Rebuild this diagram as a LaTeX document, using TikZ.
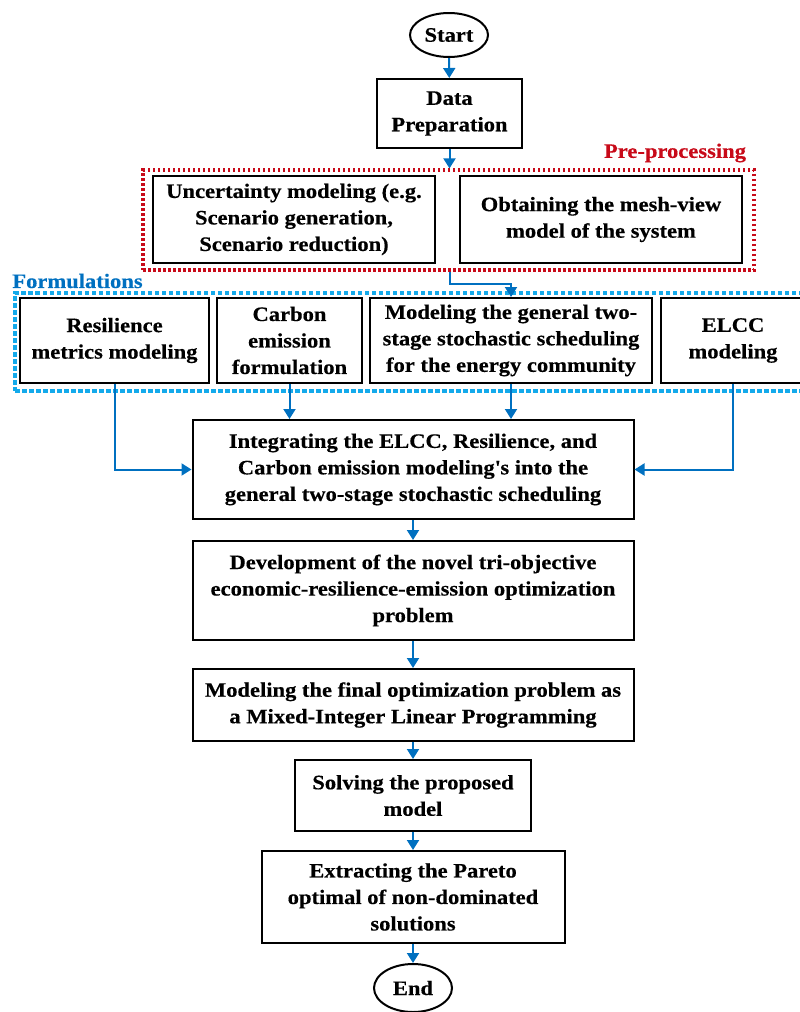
\documentclass[tikz,border=0pt]{standalone}
\usepackage{fontspec}
\setmainfont{Liberation Serif}[FakeStretch=1.1,BoldFeatures={FakeBold=0.4}]
\usetikzlibrary{arrows.meta,shapes.geometric}
\definecolor{arrblue}{RGB}{0,112,192}
\definecolor{dashred}{RGB}{200,10,25}
\definecolor{dashblue}{RGB}{20,170,235}
\tikzset{
  box/.style={draw=black,line width=2pt,rectangle,align=center,inner sep=0pt,
    font=\bfseries\fontsize{20.5}{26.5}\selectfont},
  term/.style={draw=black,line width=2pt,ellipse,inner sep=0pt,
    font=\bfseries\fontsize{20.5}{26.5}\selectfont},
  arr/.style={draw=arrblue,line width=2pt,-{Triangle[length=10pt,width=12pt]}},
  redframe/.style={draw=dashred,line width=3.2pt,dash pattern=on 2.5pt off 2.5pt,inner sep=0pt},
  blueframe/.style={draw=dashblue,line width=3.2pt,dash pattern=on 4.5pt off 2.5pt,inner sep=0pt},
  grouplabel/.style={font=\bfseries\fontsize{20.5}{26.5}\selectfont,inner sep=0pt}
}
\begin{document}
\begin{tikzpicture}[x=1pt,y=-1pt]
\useasboundingbox (0,0) rectangle (800,1012);
% group frames
\node[redframe,minimum width=611pt,minimum height=100pt] (pre) at (448.5,220) {};
\node[blueframe,minimum width=793pt,minimum height=98pt] (form) at (411.5,342) {};
\node[grouplabel,text=dashred] (prelbl) at (675,153) {Pre-processing};
\node[grouplabel,text=arrblue] (formlbl) at (77.5,281) {Formulations};
% nodes
\node[term,minimum width=78pt,minimum height=44pt] (start) at (449,35) {Start};
\node[box,minimum width=145pt,minimum height=69pt] (data) at (449.5,113.5) {Data\\Preparation};
\node[box,minimum width=282pt,minimum height=87pt] (unc) at (294,219.5) {Uncertainty modeling (e.g.\\Scenario generation,\\Scenario reduction)};
\node[box,minimum width=282pt,minimum height=87pt] (mesh) at (601,219.5) {Obtaining the mesh-view\\model of the system};
\node[box,minimum width=189pt,minimum height=85pt] (res) at (114.5,340.5) {Resilience\\metrics modeling};
\node[box,minimum width=145pt,minimum height=85pt] (carb) at (289.5,340.5) {Carbon\\emission\\formulation};
\node[box,minimum width=282pt,minimum height=85pt] (gen) at (511,340.5) {Modeling the general two-\\stage stochastic scheduling\\for the energy community};
\node[box,minimum width=144pt,minimum height=85pt] (elcc) at (733,340.5) {ELCC\\modeling};
\node[box,minimum width=441pt,minimum height=99pt] (integ) at (413,469.5) {Integrating the ELCC, Resilience, and\\Carbon emission modeling\textquotesingle s into the\\general two-stage stochastic scheduling};
\node[box,minimum width=441pt,minimum height=99pt] (dev) at (413,590.5) {Development of the novel tri-objective\\economic-resilience-emission optimization\\problem};
\node[box,minimum width=441pt,minimum height=72pt] (final) at (413,705) {Modeling the final optimization problem as\\a Mixed-Integer Linear Programming};
\node[box,minimum width=236pt,minimum height=71pt] (solve) at (413,795.5) {Solving the proposed\\model};
\node[box,minimum width=303pt,minimum height=92pt] (extract) at (413,897) {Extracting the Pareto\\optimal of non-dominated\\solutions};
\node[term,minimum width=78pt,minimum height=48pt] (end) at (413,988) {End};
% connectors
\draw[arr] (start) -- (data);
\draw[arr] (data.south) -- (data.south |- pre.north);
\draw[arr] (data.south |- pre.south) -- ++(0,12) -| (gen.north);
\draw[arr] (res.south) |- (integ.west);
\draw[arr] (carb.south) -- (carb.south |- integ.north);
\draw[arr] (gen.south) -- (gen.south |- integ.north);
\draw[arr] (elcc.south) |- (integ.east);
\draw[arr] (integ) -- (dev);
\draw[arr] (dev) -- (final);
\draw[arr] (final) -- (solve);
\draw[arr] (solve) -- (extract);
\draw[arr] (extract) -- (end);
\end{tikzpicture}
\end{document}
